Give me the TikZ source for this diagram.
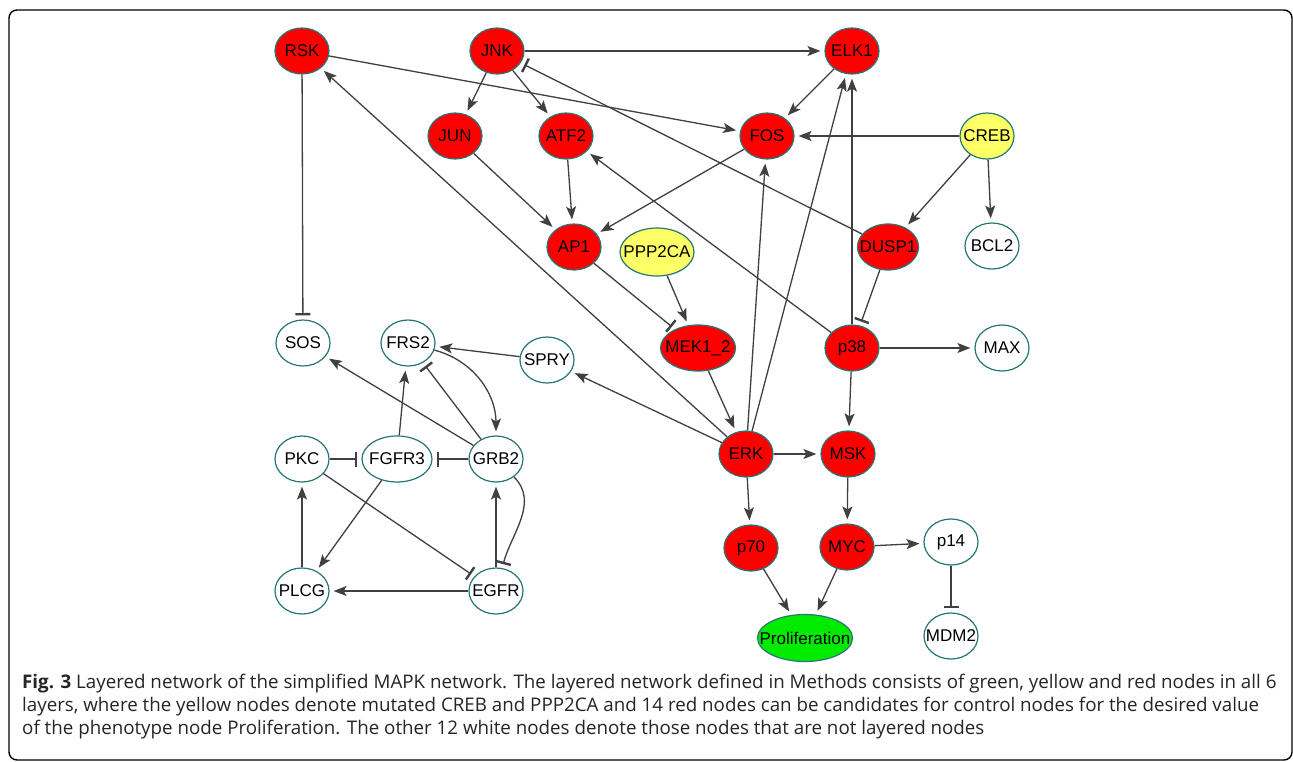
\documentclass[tikz,border=0pt]{standalone}
\usepackage{fontspec}
\setmainfont{Liberation Sans}
\newfontfamily\capfont{Open Sans}
\usetikzlibrary{shapes.geometric,arrows.meta}
\definecolor{noderedfill}{RGB}{255,0,0}
\definecolor{nodeyellowfill}{RGB}{255,255,102}
\definecolor{nodegreenfill}{RGB}{0,235,0}
\definecolor{rim}{RGB}{38,118,118}
\definecolor{edgegray}{RGB}{64,64,64}
\definecolor{captext}{RGB}{40,36,37}
% label centred in a box of zero width, so the ellipse size comes from the minimum sizes
\newcommand{\gl}[1]{\makebox[0pt][c]{#1}}
\begin{document}
\begin{tikzpicture}[x=1pt,y=-1pt,
  gene/.style={ellipse, draw=rim, line width=1.2pt, inner sep=0pt,
    minimum width=54pt, minimum height=46pt,
    font=\fontsize{17}{18}\selectfont},
  rednode/.style={gene, fill=noderedfill},
  yellownode/.style={gene, fill=nodeyellowfill},
  greennode/.style={gene, fill=nodegreenfill},
  whitenode/.style={gene, fill=white},
  act/.style={draw=edgegray, line width=1.3pt,
    -{Stealth[length=13pt,width=10pt,inset=3pt]}, shorten >=4pt},
  inh/.style={draw=edgegray, line width=1.3pt,
    -{Bar[width=15pt,line width=2.4pt]}, shorten >=4pt},
  capline/.style={anchor=base west, inner sep=0pt, text=captext,
    font=\capfont\fontsize{18.75}{22}\selectfont},
]
\clip (0,0) rectangle (1293,761);
\useasboundingbox (0,0) rectangle (1293,761);
\fill[white] (0,0) rectangle (1293,761);
\draw[line width=1.4pt, rounded corners=8pt] (9,10) rectangle (1292,760);

% ---- nodes ----
\node[rednode] (rsk)  at (302,51) {\gl{RSK}};
\node[rednode] (jnk)  at (497,51) {\gl{JNK}};
\node[rednode] (elk1) at (852,51) {\gl{ELK1}};
\node[rednode] (jun)  at (455,136) {\gl{JUN}};
\node[rednode] (atf2) at (566,136) {\gl{ATF2}};
\node[rednode] (fos)  at (767,136) {\gl{FOS}};
\node[yellownode] (creb) at (987,136) {\gl{CREB}};
\node[rednode] (ap1)  at (574,247) {\gl{AP1}};
\node[yellownode, minimum width=74pt, minimum height=48pt] (ppp2ca) at (657,252) {\gl{PPP2CA}};
\node[rednode, minimum width=61pt] (dusp1) at (888,247) {\gl{DUSP1}};
\node[whitenode] (bcl2) at (992,246) {\gl{BCL2}};
\node[whitenode] (sos)  at (303,343) {\gl{SOS}};
\node[whitenode] (frs2) at (408,343) {\gl{FRS2}};
\node[whitenode] (spry) at (547,360) {\gl{SPRY}};
\node[rednode, minimum width=75pt] (mek) at (698,348) {\gl{MEK1\_2}};
\node[rednode] (p38)  at (852,348) {\gl{p38}};
\node[whitenode] (max) at (1002,348) {\gl{MAX}};
\node[whitenode] (pkc) at (302,459) {\gl{PKC}};
\node[whitenode, minimum width=70pt] (fgfr3) at (397,459) {\gl{FGFR3}};
\node[whitenode] (grb2) at (496,459) {\gl{GRB2}};
\node[rednode] (erk) at (746,454) {\gl{ERK}};
\node[rednode] (msk) at (848,454) {\gl{MSK}};
\node[whitenode] (plcg) at (302,591) {\gl{PLCG}};
\node[whitenode] (egfr) at (496,591) {\gl{EGFR}};
\node[rednode] (p70) at (751,548) {\gl{p70}};
\node[rednode] (myc) at (847,547) {\gl{MYC}};
\node[whitenode] (p14) at (951,542) {\gl{p14}};
\node[greennode, minimum width=95pt, minimum height=47pt] (prolif) at (805,638) {\gl{Proliferation}};
\node[whitenode] (mdm2) at (951,636) {\gl{MDM2}};

% ---- interactions ----
\draw[act] (jnk) -- (elk1);
\draw[act] (jnk) -- (jun);
\draw[act] (jnk) -- (atf2);
\draw[act] (rsk) -- (fos);
\draw[inh] (dusp1) -- (jnk);
\draw[act] (elk1) -- (fos);
\draw[act] (creb) -- (fos);
\draw[act] (creb) -- (dusp1);
\draw[act] (creb) -- (bcl2);
\draw[act] (jun) -- (ap1);
\draw[act] (atf2) -- (ap1);
\draw[act] (fos) -- (ap1);
\draw[act] (p38) -- (atf2);
\draw[act] (erk) -- (rsk);
\draw[inh] (rsk) -- (sos);
\draw[inh] (ap1) -- (mek);
\draw[act] (ppp2ca) -- (mek);
\draw[inh] (dusp1) -- (p38);
\draw[act] (p38) -- (elk1);
\draw[act] (erk) -- (fos);
\draw[act] (erk) -- (elk1);
\draw[act] (mek) -- (erk);
\draw[act] (erk) -- (spry);
\draw[act] (erk) -- (msk);
\draw[act] (erk) -- (p70);
\draw[act] (p38) -- (max);
\draw[act] (p38) -- (msk);
\draw[act] (msk) -- (myc);
\draw[act] (myc) -- (p14);
\draw[act] (p70) -- (prolif);
\draw[act] (myc) -- (prolif);
\draw[inh] (p14) -- (mdm2);
\draw[act] (spry) -- (frs2);
\draw[act] (grb2) -- (sos);
\draw[inh] (grb2) -- (frs2);
\draw[act] (frs2) to[out=-15,in=90] (grb2);
\draw[act] (fgfr3) -- (frs2);
\draw[inh] (pkc) -- (fgfr3);
\draw[inh] (grb2) -- (fgfr3);
\draw[act] (fgfr3) -- (plcg);
\draw[inh] (pkc) -- (egfr);
\draw[act] (plcg) -- (pkc);
\draw[act] (egfr) -- (plcg);
\draw[act] (egfr) -- (grb2);
\draw[inh] (grb2) to[out=-45,in=75] (egfr);

% ---- caption ----
\node[capline] (cap1) at (22,688) {\textbf{Fig. 3} Layered network of the simplified MAPK network. The layered network defined in Methods consists of green, yellow and red nodes in all 6};
\node[capline] (cap2) at (22,711) {layers, where the yellow nodes denote mutated CREB and PPP2CA and 14 red nodes can be candidates for control nodes for the desired value};
\node[capline] (cap3) at (22,734) {of the phenotype node Proliferation. The other 12 white nodes denote those nodes that are not layered nodes};
\end{tikzpicture}
\end{document}
